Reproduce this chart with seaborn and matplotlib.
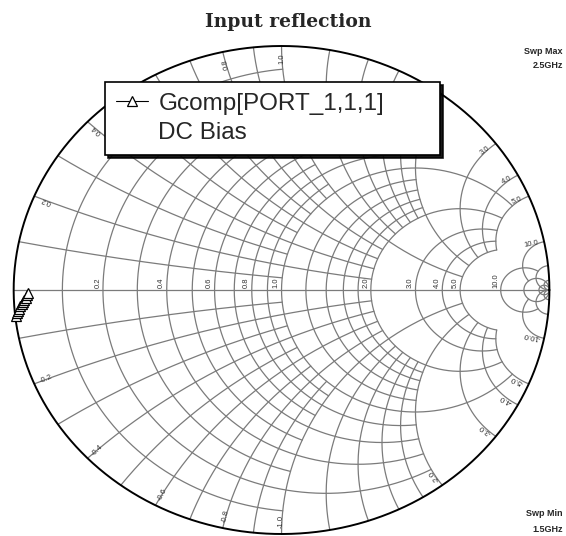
import numpy as np
import pandas as pd
import matplotlib
matplotlib.use("Agg")
import matplotlib.pyplot as plt
import seaborn as sns
from matplotlib.lines import Line2D

# Trace: input reflection coefficient, swept 1.5 GHz -> 2.5 GHz
freq_ghz = [1.5, 1.6, 1.7, 1.8, 1.9, 2.0, 2.1, 2.2, 2.3, 2.4, 2.5]
gamma_re = [-0.993, -0.989, -0.985, -0.980, -0.975, -0.970, -0.965, -0.960, -0.955, -0.950, -0.946]
gamma_im = [-0.105, -0.095, -0.086, -0.076, -0.067, -0.058, -0.049, -0.040, -0.031, -0.022, -0.013]

titre = "Input reflection"
trace_label = "Gcomp[PORT_1,1,1]"
trace_sub = "DC Bias"
swp_max = ["Swp Max", "2.5GHz"]
swp_min = ["Swp Min", "1.5GHz"]

# Smith grid values (normalised r and x) and the value where each group stops
odd_vals = [0.1, 0.3, 0.5, 0.7, 0.9]
fine_vals = [0.2, 0.4, 0.6, 0.8, 1.2, 1.4, 1.6, 1.8]
mid_vals = [1.0, 2.0, 3.0, 4.0, 5.0]
coarse_vals = [10.0]
outer_vals = [20.0, 50.0]
grid_groups = [(odd_vals, 1.0), (fine_vals, 2.0), (mid_vals, 5.0),
               (coarse_vals, 20.0), (outer_vals, 1e4)]

r_labels = [0.2, 0.4, 0.6, 0.8, 1.0, 2.0, 3.0, 4.0, 5.0, 10.0]
x_labels = [0.2, 0.4, 0.6, 0.8, 1.0, 2.0, 3.0, 4.0, 5.0, 10.0]

GRID = "#7b7b7b"
W, H = 566, 536
# pixel geometry of the (slightly squashed) chart
PX_X, PX_Y = 274.5, 244.0


def gamma(z):
    return (z - 1) / (z + 1)


def cercle_r(r, xmax):
    t = np.linspace(-np.arctan(xmax), np.arctan(xmax), 700)
    return gamma(r + 1j * np.tan(t))


def arc_x(x, rmax):
    t = np.linspace(0, np.arctan(rmax), 500)
    return gamma(np.tan(t) + 1j * x)


sns.set_style("white")
plt.rcParams["font.family"] = ["Liberation Sans", "DejaVu Sans"]

fig = plt.figure(figsize=(W / 100, H / 100), dpi=100)
ax = fig.add_axes([0, 0, 1, 1])
ax.set_xlim(-1 - 14 / PX_X, -1 + W / PX_X)
ax.set_ylim(1 - (H - 46) / PX_Y, 1 + 46 / PX_Y)
ax.axis("off")

# grid
for vals, lim in grid_groups:
    for v in vals:
        g = cercle_r(v, lim)
        ax.plot(g.real, g.imag, color=GRID, lw=0.9, zorder=1)
        for s in (1, -1):
            g = arc_x(s * v, lim)
            ax.plot(g.real, g.imag, color=GRID, lw=0.9, zorder=1)
ax.plot([-1, 1], [0, 0], color=GRID, lw=0.9, zorder=1)

th = np.linspace(0, 2 * np.pi, 800)
ax.plot(np.cos(th), np.sin(th), color="black", lw=1.4, zorder=2)

# resistance labels along the real axis
for r in r_labels:
    g = (r - 1) / (r + 1)
    ax.annotate(f"{r:.1f}", (g, 0), xytext=(-1.2, 1.5), textcoords="offset points",
                rotation=90, ha="right", va="bottom", fontsize=5.5, color="#333333")

# reactance labels just inside the rim
for x in x_labels:
    for s in (1, -1):
        g = gamma(1j * s * x)
        ang = np.angle(g)
        dx, dy = -np.cos(ang) * PX_X, -np.sin(ang) * PX_Y
        n = np.hypot(dx, dy)
        rot = np.degrees(ang) if ang > 0 else np.degrees(ang) + 180
        ax.annotate(f"{s * x:.1f}", (g.real, g.imag), xytext=(dx / n * 9, dy / n * 9),
                    textcoords="offset points", rotation=rot, ha="center", va="center",
                    fontsize=5.5, color="#333333")

# trace
df = pd.DataFrame({"freq": freq_ghz, "re": gamma_re, "im": gamma_im})
sns.lineplot(data=df, x="re", y="im", sort=False, color="black", lw=0.8,
             marker="^", markersize=7, markerfacecolor="white", markeredgecolor="black",
             markeredgewidth=0.9, label=trace_label, ax=ax, zorder=5)

handles, labels = ax.get_legend_handles_labels()
vide = Line2D([], [], color="none")
leg = ax.legend([handles[0], vide], [trace_label, trace_sub], loc="upper left",
                bbox_to_anchor=(105 / W, 1 - 154 / H, 335 / W, 72 / H), mode="expand",
                borderaxespad=0, borderpad=0.45, handlelength=1.3, handletextpad=0.45,
                labelspacing=0.3, fancybox=False, framealpha=1,
                shadow={"color": "black", "alpha": 0.9},
                prop={"family": "Liberation Sans", "size": 17.5})
leg.get_frame().set_edgecolor("black")
leg.get_frame().set_linewidth(1.2)
leg.set_zorder(10)

fig.text(288 / W, 1 - 22 / H, titre, ha="center", va="center",
         family="DejaVu Serif", weight="bold", fontsize=13.5)
fig.text(563 / W, 1 - 52 / H, swp_max[0], ha="right", va="center", fontsize=6.5, weight="bold")
fig.text(563 / W, 1 - 66 / H, swp_max[1], ha="right", va="center", fontsize=6.5, weight="bold")
fig.text(563 / W, 1 - 513 / H, swp_min[0], ha="right", va="center", fontsize=6.5, weight="bold")
fig.text(563 / W, 1 - 529 / H, swp_min[1], ha="right", va="center", fontsize=6.5, weight="bold")

fig.savefig("out.png", dpi=100)
